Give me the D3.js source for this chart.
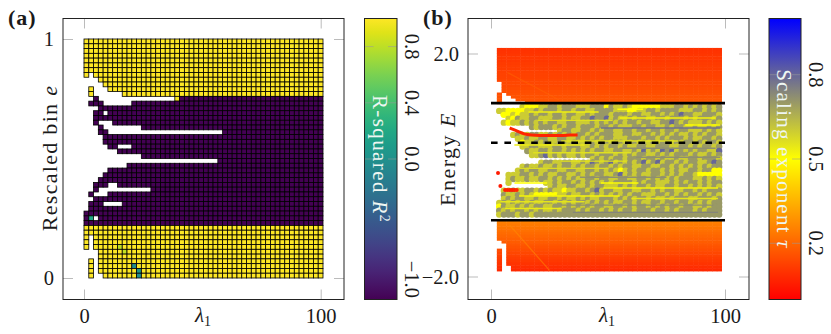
<!DOCTYPE html>
<html>
<head>
<meta charset="utf-8">
<script src="https://cdn.jsdelivr.net/npm/d3@7"></script>
<style>
  html, body { margin: 0; padding: 0; background: #fff; }
  text { font-family: "Liberation Serif", serif; fill: #1a1a1a; }
</style>
</head>
<body>
<div id="chart"></div>
<script>
/******************** I DATA : panel (a) ************************************/
// filled column spans for each of the 50 rows, top row (e = 1) first
var rowSpans = [
  [[0,49]],[[0,49]],[[0,49]],[[0,49]],[[0,49]],[[0,49]],[[0,49]],
  [[0,0],[2,49]],[[3,49]],[[4,49]],[[1,1],[5,49]],[[1,1],[8,49]],
  [[2,2],[19,49]],[[1,3],[10,49]],[[3,49]],[[2,3],[5,49]],[[2,49]],
  [[2,2],[6,49]],[[3,3],[12,49]],[[3,4],[29,49]],[[4,49]],[[4,49]],
  [[5,6],[10,49]],[[7,49]],[[12,49]],[[28,49]],[[9,49]],[[5,49]],[[4,49]],
  [[3,49]],[[2,4],[7,49]],[[2,2],[14,49]],[[1,1],[5,49]],[[2,49]],
  [[1,3],[8,49]],[[1,49]],[[0,49]],[[0,1],[3,49]],[[0,49]],
  [[0,49]],[[0,49]],[[0,0],[2,49]],[[0,0],[2,49]],[[0,0],[2,49]],
  [[3,49]],[[3,49]],[[1,1],[3,49]],[[1,1],[3,49]],[[1,1],[3,49]],[[1,1],[4,49]]
]
var rowR2 = [
  1,1,1,1,1,1,1,1,1,1,1,1,
  -1,-1,-1,-1,-1,-1,-1,-1,-1,-1,-1,-1,-1,-1,-1,-1,-1,-1,-1,-1,-1,-1,-1,-1,-1,-1,-1,
  1,1,1,1,1,1,1,1,1,1,1
]
// [row, column, R2] for the cells that differ from their row
var oddCells = [[12,19,0.97],[37,1,0.2],[47,10,-0.02],[48,11,0.05],[49,11,-0.02],[43,7,0.8],[44,8,0.82]]
var r2Ticks = [0.8, 0.4, 0.0, -1.0]

/******************** II DATA : panel (b) ***********************************/
var lambdaCols = d3.range(3.5, 98, 2)

var topBandE = [2.1,2.05,2.0,1.95,1.9,1.85,1.8,1.75,1.7,1.65,1.6,1.55,1.5,1.45,1.4,1.35,1.3,1.25,1.2,1.15]
var topBandTau = [.10,.10,.105,.11,.11,.115,.12,.12,.125,.13,.13,.135,.14,.14,.145,.15,.155,.16,.165,.17]
var botBandE = [-1.0,-1.05,-1.1,-1.15,-1.2,-1.25,-1.3,-1.35,-1.4,-1.45,-1.5,-1.55,-1.6,-1.65,-1.7,-1.75,-1.8,-1.85]
var botBandTau = [.25,.24,.23,.22,.21,.20,.19,.18,.17,.16,.15,.14,.13,.12,.11,.10,.09,.08]
// [column, upper E, lower E] that stay empty inside the two bands
var bandGaps = [
  [0,1.52,1.30],[1,1.32,1.0],[2,1.23,1.0],[3,1.19,1.0],[4,1.17,1.0],[5,1.15,1.0],
  [0,-1.35,-1.49],[1,-1.38,-2],[2,-1.78,-2]
]

var midE = [1.04,.97,.90,.83,.76,.68,.61,.54,.47,.40,.33,.25,.18,.11,.04,-.03,-.10,-.18,-.25,-.32,-.39,-.46,-.54,-.61,-.68,-.75,-.82,-.89]
// one digit per column: tau * 10, "." = no state
var midTau = [
  ".....655 56677677 76667775 76676555 55566677 67676767",
  "66555566 76777677 67766777 76665566 77677776 66776767",
  ".5565667 67767767 76676777 67776776 67767678 77667776",
  "..657667 76667767 66778778 67667677 66776777 67677767",
  ".6566767 67677667 76667676 76767767 76677876 76667676",
  ".......7 67776767 76777677 67666776 77667677 66766767",
  "........ .....677 66776767 76677677 67767767 76667676",
  "...67667 76676767 67767677 76677667 76767676 67676776",
  "....6676 67766776 67676767 76667776 77676777 67667767",
  ".....566 76766776 76677677 67766767 67677676 77676776",
  ".....667 76667767 77667676 77676677 66777667 76767767",
  "......76 67767767 67676776 67766768 67687867 67677668",
  ".......6 67867676 67677677 76767677 66767677 76766767",
  "........ ........ ....6767 67767776 77676676 67767776",
  "........ .6776677 66768767 86767678 67867767 67766787",
  ".....676 67667677 67677677 67677667 76677676 76767677",
  "....6767 76677667 76677676 76567677 67767676 67767755",
  "..666776 76766776 67676776 67867676 67767676 77655555",
  "..676676 67767676 76677677 66776677 67676767 77667676",
  "..6..... ..667677 67676767 67777676 77666767 67767677",
  "........ ...67667 76676776 66767677 67667767 76767676",
  ".6676677 67676656 67767867 76677667 76767766 77676777",
  ".7667676 55555667 66776767 67676776 66776767 67767676",
  ".6767766 76677676 67676677 76767677 67667677 76677767",
  "67676767 66776767 67767676 76677676 67767767 76767677",
  "57667676 77667767 67676776 67767677 67676776 77667677",
  "76767767 67667677 76767767 67677677 76776767 77676777",
  "67776776 77777777 77777777 77777777 77777777 77777777"
]

// thin streaks across the dense part: [E, lambda from, lambda to, tau]
var midStreaks = [
  [1.0,54,65,.5],[.95,16,46,.53],[.9,4,8,.5],[.843,55,96,.52],[.8,20,52,.56],
  [.718,83,98,.5],[.664,47,98,.78],[.43,30,80,.56],[.36,10,40,.54],[.3,55,96,.72],
  [.22,18,60,.56],[.14,62,98,.72],[.07,30,58,.55],[-.06,12,50,.57],[-.143,88,98,.5],
  [-.22,38,75,.72],[-.323,47,63,.5],[-.323,10,24,.5],[-.413,48,97,.52],[-.556,12,55,.52],
  [-.6,60,97,.55],[-.66,4,40,.55],[-.72,30,95,.72],[-.78,6,30,.54],[-.85,35,97,.74]
]
var redArcLambda = [8,10,12,14,17,21,25,30,34,37]
var redArcE = [.664,.628,.592,.556,.538,.529,.529,.529,.538,.538]
var redDots = [[3,-.143,.05],[4,-.377,.05],[6,-.448,.06],[7,-.448,.06],[8,-.448,.06],[9,-.448,.06],[10,-.448,.07],[11,-.448,.08]]
var topRidgeLambda = [7,29]
var topRidgeE = [1.66,1.17]
var botRidgeLambda = [8,25]
var botRidgeE = [-1.08,-1.89]

var solidLevels = [1.11, -0.99]
var dashedLevel = 0.40
var tauTicks = [0.8, 0.5, 0.2]

/******************** III CANVAS ********************************************/
var svg = d3.select('#chart').append('svg')
  .attr('width', 831)
  .attr('height', 334)

var defs = svg.append('defs')

function frameAxes(g, x, y, left, right, top, bottom, xTicks, yTicks, yFormat) {
  var sides = [
    {ax: d3.axisBottom(x).tickValues(xTicks).tickFormat(d3.format('d')), t: 'translate(0,' + bottom + ')', labels: true},
    {ax: d3.axisTop(x).tickValues(xTicks), t: 'translate(0,' + top + ')', labels: false},
    {ax: d3.axisLeft(y).tickValues(yTicks).tickFormat(yFormat), t: 'translate(' + left + ',0)', labels: true},
    {ax: d3.axisRight(y).tickValues(yTicks), t: 'translate(' + right + ',0)', labels: false}
  ]
  sides.forEach(function(s) {
    var a = g.append('g')
      .attr('transform', s.t)
      .call(s.ax.tickSizeInner(-10).tickPadding(9))
    a.select('.domain').remove()
    a.selectAll('line').attr('stroke', '#aaaaaa').attr('stroke-width', 0.8)
    a.selectAll('text')
      .attr('font-size', 20.5)
      .attr('font-family', '"Liberation Serif", serif')
      .text(function(d) { return s.labels ? s.ax.tickFormat()(d).replace('-', '\u2212') : '' })
  })
  g.append('rect')
    .attr('x', left).attr('y', top)
    .attr('width', right - left).attr('height', bottom - top)
    .attr('fill', 'none')
    .attr('stroke', '#222222')
    .attr('stroke-width', 1)
}

function colorbar(id, left, right, top, bottom, domain, colorOf, ticks, title) {
  var y = d3.scaleLinear().domain(domain).range([bottom, top])
  var grad = defs.append('linearGradient')
    .attr('id', id)
    .attr('x1', 0).attr('y1', 1).attr('x2', 0).attr('y2', 0)
  d3.range(0, 1.001, 0.05).forEach(function(t) {
    grad.append('stop')
      .attr('offset', t)
      .attr('stop-color', colorOf(domain[0] + t * (domain[1] - domain[0])))
  })
  svg.append('rect')
    .attr('x', left).attr('y', top)
    .attr('width', right - left).attr('height', bottom - top)
    .attr('fill', 'url(#' + id + ')')

  var lines = svg.append('g').selectAll('line').data(ticks).enter()
  ;[[left, left + 9], [right - 9, right]].forEach(function(p) {
    lines.append('line')
      .attr('x1', p[0]).attr('x2', p[1])
      .attr('y1', function(d) { return y(d) }).attr('y2', function(d) { return y(d) })
      .attr('stroke', '#999999')
      .attr('stroke-opacity', 0.7)
      .attr('stroke-width', 0.8)
  })
  svg.append('rect')
    .attr('x', left).attr('y', top)
    .attr('width', right - left).attr('height', bottom - top)
    .attr('fill', 'none')
    .attr('stroke', '#222222')
    .attr('stroke-width', 1)

  svg.append('g').selectAll('text').data(ticks).enter().append('text')
    .attr('transform', function(d) {
      return 'translate(' + (right + 7.5) + ',' + (d === -1 ? bottom - 1.5 : y(d)) + ') rotate(90)'
    })
    .attr('text-anchor', function(d) { return d === -1 ? 'end' : 'middle' })
    .attr('font-size', 20.5)
    .text(function(d) { return d3.format('.1f')(d).replace('-', '\u2212') })

  var t = svg.append('text')
    .attr('transform', 'translate(' + (left + 8) + ',' + ((top + bottom) / 2) + ') rotate(90)')
    .attr('text-anchor', 'middle')
    .attr('font-size', 21)
    .style('fill', '#eef6f2')
  title(t)
}

function xLabel(cx, cy) {
  var t = svg.append('text')
    .attr('x', cx).attr('y', cy)
    .attr('text-anchor', 'middle')
    .attr('font-size', 21)
    .attr('font-style', 'italic')
    .text('\u03bb')
  t.append('tspan')
    .attr('font-size', 14)
    .attr('font-style', 'normal')
    .attr('dy', 4)
    .text('1')
}

/******************** IV PANEL (a) ******************************************/
var r2Color = function(v) { return d3.interpolateViridis((v + 1) / 2) }
var ax = d3.scaleLinear().domain([0, 100]).range([84, 320.7])
var ay = d3.scaleLinear().domain([0, 1]).range([278, 39])
var colBand = d3.scaleBand().domain(d3.range(50)).range([84, 323])
var rowBand = d3.scaleBand().domain(d3.range(50)).range([39, 278])

var cells = []
rowSpans.forEach(function(spans, r) {
  spans.forEach(function(s) {
    d3.range(s[0], s[1] + 1).forEach(function(c) {
      cells.push({r: r, c: c, v: rowR2[r]})
    })
  })
})
oddCells.forEach(function(o) {
  cells.forEach(function(d) { if (d.r === o[0] && d.c === o[1]) d.v = o[2] })
})

var panelA = svg.append('g')
panelA.selectAll('rect').data(cells).enter().append('rect')
  .attr('x', function(d) { return colBand(d.c) })
  .attr('y', function(d) { return rowBand(d.r) })
  .attr('width', colBand.bandwidth())
  .attr('height', rowBand.bandwidth())
  .attr('fill', function(d) { return r2Color(d.v) })
  .attr('stroke', '#000000')
  .attr('stroke-width', 0.8)

frameAxes(svg.append('g'), ax, ay, 63, 344, 18.5, 299.5, [0, 100], [0, 1], d3.format('d'))
xLabel(203, 322)

var aLabel = svg.append('text')
  .attr('transform', 'translate(57,158) rotate(-90)')
  .attr('text-anchor', 'middle')
  .attr('font-size', 22)
  .attr('letter-spacing', 1.3)
  .text('Rescaled bin ')
aLabel.append('tspan').attr('font-style', 'italic').text('e')

colorbar('cbA', 364.5, 397, 18.5, 299.5, [-1, 1], r2Color, r2Ticks, function(t) {
  t.attr('letter-spacing', 1.4).text('R-squared ')
  t.append('tspan').attr('font-style', 'italic').text('R')
  t.append('tspan').attr('font-size', 14).attr('dy', -7).text('2')
})

/******************** V PANEL (b) *******************************************/
var tauColor = d3.scaleLinear()
  .domain([0, 0.5, 1])
  .range(['#ff0000', '#ffff00', '#0000ff'])
var bx = d3.scaleLinear().domain([0, 100]).range([491, 725])
var by = d3.scaleLinear().domain([-2, 2]).range([276.5, 53.5])

var panelB = svg.append('g')

var midPoints = []
midTau.forEach(function(row, r) {
  row.replace(/ /g, '').split('').forEach(function(ch, c) {
    if (ch !== '.') midPoints.push({lambda: lambdaCols[c], e: midE[r], tau: +ch / 10})
  })
})
panelB.append('g').selectAll('circle').data(midPoints).enter().append('circle')
  .attr('cx', function(d) { return bx(d.lambda) })
  .attr('cy', function(d) { return by(d.e) })
  .attr('r', 3.2)
  .attr('fill', function(d) { return tauColor(d.tau) })

panelB.append('g').selectAll('line').data(midStreaks).enter().append('line')
  .attr('x1', function(d) { return bx(d[1]) })
  .attr('x2', function(d) { return bx(d[2]) })
  .attr('y1', function(d) { return by(d[0]) })
  .attr('y2', function(d) { return by(d[0]) })
  .attr('stroke', function(d) { return tauColor(d[3]) })
  .attr('stroke-width', 1.4)

panelB.append('path')
  .datum(d3.zip(redArcLambda, redArcE))
  .attr('d', d3.line()
    .x(function(d) { return bx(d[0]) })
    .y(function(d) { return by(d[1]) })
    .curve(d3.curveBasis))
  .attr('fill', 'none')
  .attr('stroke', tauColor(0.07))
  .attr('stroke-width', 3)

panelB.append('g').selectAll('circle').data(redDots).enter().append('circle')
  .attr('cx', function(d) { return bx(d[0]) })
  .attr('cy', function(d) { return by(d[1]) })
  .attr('r', 2)
  .attr('fill', function(d) { return tauColor(d[2]) })

function bandCells(rowsE, rowsTau) {
  var out = []
  rowsE.forEach(function(e, r) {
    lambdaCols.forEach(function(l, c) {
      var mid = e - 0.025
      var gap = bandGaps.some(function(g) { return g[0] === c && mid < g[1] && mid > g[2] })
      if (!gap) out.push({lambda: l, e: e, tau: rowsTau[r]})
    })
  })
  return out
}
panelB.append('g').selectAll('rect')
  .data(bandCells(topBandE, topBandTau).concat(bandCells(botBandE, botBandTau)))
  .enter().append('rect')
  .attr('x', function(d) { return bx(d.lambda - 1) })
  .attr('width', bx(2) - bx(0) + 0.5)
  .attr('y', function(d) { return by(d.e) })
  .attr('height', by(0) - by(0.05) + 0.5)
  .attr('fill', function(d) { return tauColor(d.tau) })

;[[topRidgeLambda, topRidgeE, 0.2], [botRidgeLambda, botRidgeE, 0.28]].forEach(function(p) {
  panelB.append('path')
    .datum(d3.zip(p[0], p[1]))
    .attr('d', d3.line()
      .x(function(d) { return bx(d[0]) })
      .y(function(d) { return by(d[1]) }))
    .attr('fill', 'none')
    .attr('stroke', tauColor(p[2]))
    .attr('stroke-opacity', 0.5)
    .attr('stroke-width', 1.2)
})

panelB.append('g').selectAll('line').data(solidLevels).enter().append('line')
  .attr('x1', bx(0)).attr('x2', bx(100))
  .attr('y1', function(d) { return by(d) }).attr('y2', function(d) { return by(d) })
  .attr('stroke', '#000000')
  .attr('stroke-width', 2.6)
panelB.append('line')
  .attr('x1', bx(0)).attr('x2', bx(100))
  .attr('y1', by(dashedLevel)).attr('y2', by(dashedLevel))
  .attr('stroke', '#000000')
  .attr('stroke-width', 2.6)
  .attr('stroke-dasharray', '6.6 6.8')

frameAxes(svg.append('g'), bx, by, 468, 749, 18.5, 299.5, [0, 100], [-2, 2], d3.format('.1f'))
xLabel(607, 322)

var bLabel = svg.append('text')
  .attr('transform', 'translate(455,159) rotate(-90)')
  .attr('text-anchor', 'middle')
  .attr('font-size', 22)
  .attr('letter-spacing', 1.5)
  .text('Energy ')
bLabel.append('tspan').attr('font-style', 'italic').text('E')

colorbar('cbB', 769, 801, 18.5, 299.5, [0, 1], tauColor, tauTicks, function(t) {
  t.attr('letter-spacing', 1.2).text('Scaling exponent ')
  t.append('tspan').attr('font-style', 'italic').text('\u03c4')
})

/******************** VI PANEL TAGS *****************************************/
svg.append('text').attr('x', 8).attr('y', 25)
  .attr('font-size', 22).attr('font-weight', 'bold').attr('letter-spacing', 1).text('(a)')
svg.append('text').attr('x', 423).attr('y', 25)
  .attr('font-size', 22).attr('font-weight', 'bold').attr('letter-spacing', 1).text('(b)')
</script>
</body>
</html>
